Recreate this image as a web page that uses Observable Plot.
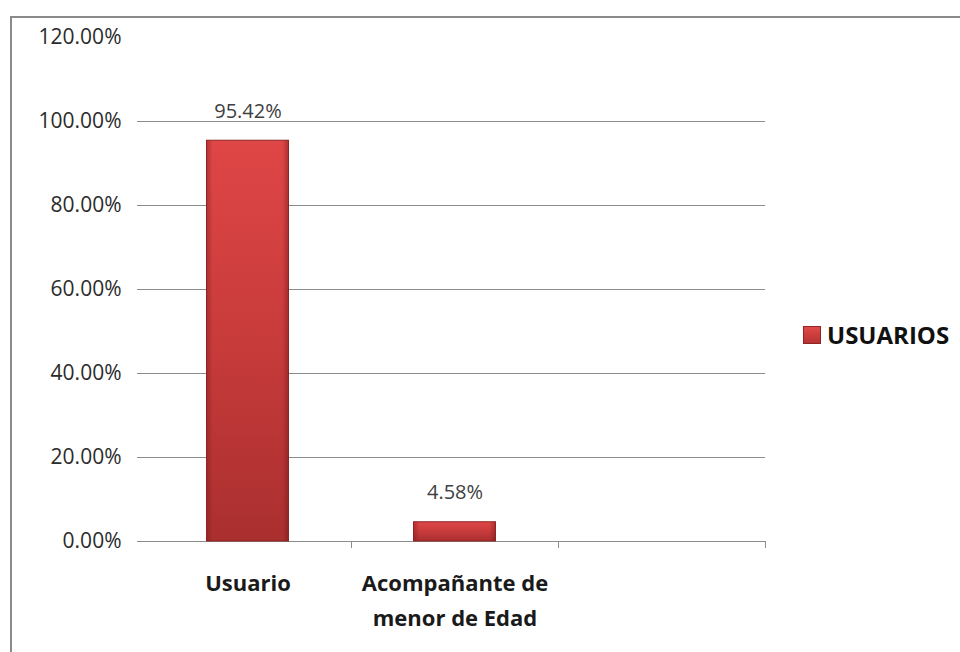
<!DOCTYPE html>
<html>
<head>
<meta charset="utf-8">
<script src="https://cdn.jsdelivr.net/npm/d3@7"></script>
<script src="https://cdn.jsdelivr.net/npm/@observablehq/plot@0.6"></script>
<style>
  body { margin: 0; background: #fff; font-family: "Open Sans", Lato, sans-serif; }
  #wrap { position: relative; width: 960px; height: 652px; overflow: hidden; background: #fff; }
  #frame { position: absolute; left: 10px; top: 16px; width: 980px; height: 700px;
           border-left: 2px solid #8a8a8a; border-top: 2px solid #8a8a8a; }
  #chart { position: absolute; left: 0; top: 0; }
  #legend { position: absolute; left: 803px; top: 318px; display: flex; align-items: center; gap: 6px;
            font-weight: bold; font-size: 24px; color: #111; }
  #legend .sw { width: 16px; height: 16px; border: 1px solid #8f2424;
                background: linear-gradient(#e04a4a, #b83232); }
</style>
</head>
<body>
<div id="wrap">
  <div id="frame"></div>
  <div id="chart"></div>
  <div id="legend"><span class="sw"></span><span id="legendText"></span></div>
</div>
<script>
// ---- data ----
const categories = ["Usuario", "Acompañante de menor de Edad"];
const values = [95.42, 4.58];
const emptyCategory = [" "];            // empty third slot on the category axis
const yTicks = [0, 20, 40, 60, 80, 100, 120];
const gridTicks = [0, 20, 40, 60, 80, 100];
const seriesName = "USUARIOS";

const data = categories.map((c, i) => ({ cat: c, value: values[i] }));
const domain = [...categories, ...emptyCategory];

const W = 960, H = 652, mL = 144, mR = 195, mT = 37, mB = 111;
const step = (W - mL - mR) / domain.length;
const barW = 82;
const inset = (step - barW) / 2;

function wrap(s) {
  const words = s.split(" ");
  const lines = [];
  let cur = "";
  for (const w of words) {
    if (cur && (cur + " " + w).length > 15) { lines.push(cur); cur = w; }
    else cur = cur ? cur + " " + w : w;
  }
  if (cur) lines.push(cur);
  return lines.join("\n");
}

const font = "'Open Sans', Lato, sans-serif";

const plot = Plot.plot({
  width: W, height: H,
  marginLeft: mL, marginRight: mR, marginTop: mT, marginBottom: mB,
  style: { background: "transparent", fontFamily: font, overflow: "visible" },
  x: { domain, padding: 0 },
  y: { domain: [0, 120] },
  marks: [
    Plot.ruleY(gridTicks, { y: d => d, stroke: "#8c8c8c", strokeWidth: 1, insetLeft: -7 }),
    Plot.ruleX(domain, { x: d => d, dx: step / 2, y1: 0, y2: 0, insetBottom: -7, stroke: "#8c8c8c" }),
    Plot.barY(data, { x: "cat", y: "value", fill: "url(#barGrad)", stroke: "#8f2424", strokeWidth: 1,
                      insetLeft: inset, insetRight: inset }),
    Plot.barY(data, { x: "cat", y: "value", fill: "url(#edgeGrad)",
                      insetLeft: inset + 0.5, insetRight: inset + 0.5 }),
    Plot.text(data, { x: "cat", y: "value", text: d => d.value.toFixed(2) + "%", lineAnchor: "bottom",
                      dy: -23, fontSize: 20, fill: "#404040" }),
    Plot.axisY({ ticks: yTicks, tickSize: 0, tickPadding: 23, tickFormat: d => d.toFixed(2) + "%",
                 fontSize: 21, fill: "#2b2b2b", label: null }),
    Plot.axisX({ tickSize: 0, tickPadding: 25, tickFormat: d => wrap(d), fontSize: 22, fontWeight: "bold",
                 fill: "#1a1a1a", lineHeight: 1.58, label: null })
  ]
});

// gradient definitions for bar fill and bevelled edges
const ns = "http://www.w3.org/2000/svg";
const defs = document.createElementNS(ns, "defs");
defs.innerHTML = `<linearGradient id="barGrad" x1="0" y1="0" x2="0" y2="1">
  <stop offset="0" stop-color="#df4646"/>
  <stop offset="0.5" stop-color="#c83b3b"/>
  <stop offset="1" stop-color="#aa2f2f"/>
</linearGradient>
<linearGradient id="edgeGrad" x1="0" y1="0" x2="1" y2="0">
  <stop offset="0" stop-color="#6e1515" stop-opacity="0.35"/>
  <stop offset="0.07" stop-color="#6e1515" stop-opacity="0"/>
  <stop offset="0.93" stop-color="#6e1515" stop-opacity="0"/>
  <stop offset="1" stop-color="#6e1515" stop-opacity="0.4"/>
</linearGradient>`;
plot.insertBefore(defs, plot.firstChild);

document.getElementById("chart").appendChild(plot);
document.getElementById("legendText").textContent = seriesName;
</script>
</body>
</html>
